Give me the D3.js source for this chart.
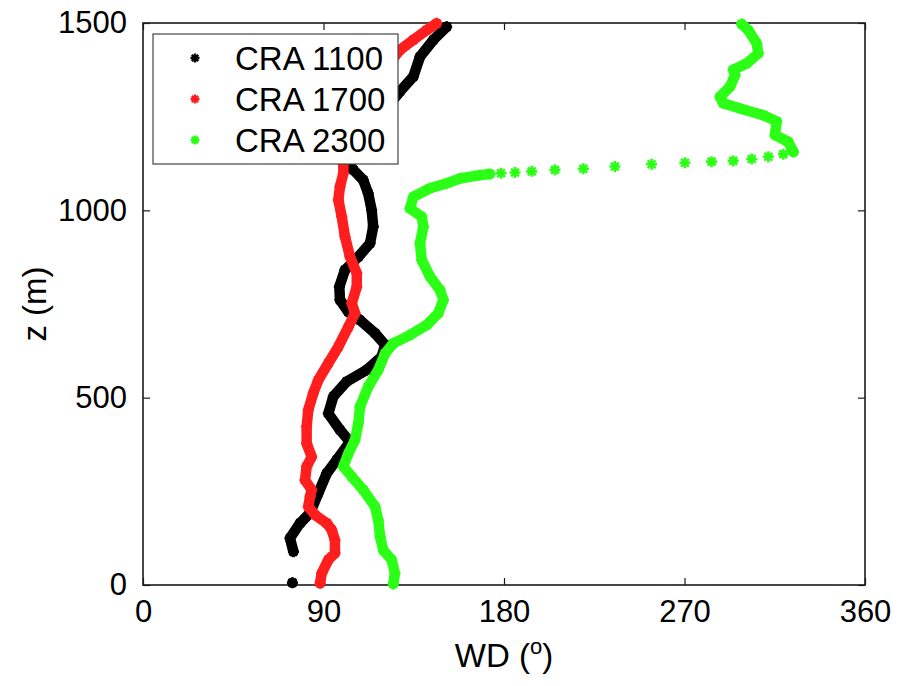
<!DOCTYPE html>
<html>
<head>
<meta charset="utf-8">
<script src="https://cdn.jsdelivr.net/npm/d3@7"></script>
<style>
  html, body { margin: 0; padding: 0; background: #fff; }
  svg { display: block; font-family: "Liberation Sans", Arial, Helvetica, sans-serif; }
</style>
</head>
<body>
<svg id="chart" width="904" height="686"></svg>
<script>
// ---- data: [height z (m), wind direction (deg)] ; null = gap in profile ----
const cra1100 = [
  [6, 74.5], null,
  [89, 75], [125, 73.3], [165, 78.3], [192, 83.3], [245, 87.4], [298, 91.6], [334, 96.6],
  [382, 103.2], [414, 98.2], [458, 92.4], [503, 94.9], [543, 101.6], [574, 111.5], [609, 119],
  [641, 120.7], [672, 115.7], [707, 108.2], [729, 102.4], [761, 98.2], [796, 97.9], [841, 100.7],
  [876, 107.4], [912, 113.2], [956, 114.8], [1001, 114], [1045, 112.3], [1081, 109.8],
  [1108, 104.9], [1125, 102.4], [1160, 104], [1200, 110], [1250, 118], [1290, 124],
  [1317, 128.1], [1357, 134.8], [1410, 138.1], [1455, 144.8], [1490, 151.4]
];
const cra1700 = [
  [5, 88.3], [31, 89.1], [67, 92.4], [85, 95.7], [120, 95.7], [147, 94.1], [165, 91.6],
  [187, 85.8], [209, 82.4], [236, 83.3], [254, 84.1], [280, 80.8], [316, 81.6], [342, 84.1],
  [378, 81.6], [423, 81.6], [467, 82.4], [512, 84.9], [547, 87.4], [592, 92.4], [636, 97.4],
  [689, 102.4], [725, 105.7], [752, 104.1], [796, 106.6], [832, 106.6], [876, 103.2],
  [930, 100.7], [983, 99.1], [1028, 97.4], [1063, 98.2], [1099, 99.9], [1125, 99.9],
  [1180, 102], [1250, 108], [1320, 115], [1380, 121], [1428, 128.1], [1455, 134.8],
  [1481, 141.5], [1499, 146.4]
];
const cra2300 = [
  [3, 124.8], [31, 125.6], [67, 124], [93, 119.8], [129, 118.2], [173, 117.3], [209, 115.7],
  [254, 109.8], [289, 104.1], [316, 99.9], [351, 102.4], [387, 105.7], [432, 107.4],
  [476, 108.2], [529, 112.3], [574, 117.3], [618, 120.7], [645, 124.8], [667, 133.1],
  [694, 141.5], [725, 147.2], [761, 149.8], [787, 148.1], [823, 143.1], [867, 139],
  [912, 138.1], [956, 139.8], [983, 139], [1005, 133.1], [1036, 134.8], [1059, 143.1],
  [1072, 151.4], [1085, 158.1], [1094, 168], [1097, 173], null,
  [1156, 324.3], [1183, 321.7], [1201, 315.1], [1237, 316], [1254, 309.3], [1272, 297.7],
  [1286, 289.3], [1303, 287.7], [1330, 292.7], [1361, 295.2], [1375, 294.3], [1392, 301],
  [1419, 306.8], [1446, 306], [1481, 301.8], [1497, 298.5]
];
// isolated samples in the sharp veering layer (drawn as separate markers)
const cra2300Jump = [
  [1099, 178.5], [1101, 185.5], [1104, 193.8], [1108, 205.4], [1111, 219.6], [1117, 235.3],
  [1123, 253.6], [1127, 270.2], [1130, 283.5], [1132, 294.3], [1137, 303.5], [1143, 311.8],
  [1150, 319.3]
];
const seriesNames = ["CRA 1100", "CRA 1700", "CRA 2300"];
const seriesColors = ["#000000", "#ff1e1e", "#2cff16"];
const xTicks = [0, 90, 180, 270, 360];
const yTicks = [0, 500, 1000, 1500];

// ---- layout ----
const svg = d3.select("#chart");
const plot = { left: 143, right: 865, top: 23, bottom: 585 };
const x = d3.scaleLinear().domain([0, 360]).range([plot.left, plot.right]);
const y = d3.scaleLinear().domain([0, 1500]).range([plot.bottom, plot.top]);
const tickFont = 31;
const labelFont = 33;

// frame
svg.append("rect")
  .attr("x", plot.left).attr("y", plot.top)
  .attr("width", plot.right - plot.left).attr("height", plot.bottom - plot.top)
  .attr("fill", "#fff").attr("stroke", "#1a1a1a").attr("stroke-width", 1.6);

// axes (ticks inside, MATLAB style)
function styleAxis(g) {
  g.select(".domain").remove();
  g.selectAll(".tick line").attr("stroke", "#1a1a1a").attr("stroke-width", 1.2);
  g.selectAll("text").attr("font-size", tickFont).attr("fill", "#000")
    .attr("font-family", "'Liberation Sans', Arial, Helvetica, sans-serif");
}
svg.append("g").attr("transform", `translate(0,${plot.bottom})`)
  .call(d3.axisBottom(x).tickValues(xTicks).tickFormat(d3.format("d")).tickSize(-7).tickPadding(15))
  .call(styleAxis);
svg.append("g").attr("transform", `translate(0,${plot.top})`)
  .call(d3.axisTop(x).tickValues(xTicks).tickFormat("").tickSize(-7))
  .call(styleAxis);
svg.append("g").attr("transform", `translate(${plot.left},0)`)
  .call(d3.axisLeft(y).tickValues(yTicks).tickFormat(d3.format("d")).tickSize(-7).tickPadding(16))
  .call(styleAxis);
svg.append("g").attr("transform", `translate(${plot.right},0)`)
  .call(d3.axisRight(y).tickValues(yTicks).tickFormat("").tickSize(-7))
  .call(styleAxis);

// asterisk marker path
function starPath(r) {
  const d = r * Math.SQRT1_2;
  return `M${-r},0L${r},0M0,${-r}L0,${r}M${-d},${-d}L${d},${d}M${-d},${d}L${d},${-d}`;
}

const line = d3.line()
  .defined(d => d !== null)
  .x(d => x(d[1]))
  .y(d => y(d[0]));

function drawProfile(data, color, extra) {
  const g = svg.append("g");
  g.append("path")
    .attr("d", line(data))
    .attr("fill", "none")
    .attr("stroke", color)
    .attr("stroke-width", 10.5)
    .attr("stroke-linejoin", "round")
    .attr("stroke-linecap", "round");
  const pts = data.filter(d => d !== null).concat(extra || []);
  g.selectAll("path.star").data(pts).enter().append("path")
    .attr("class", "star")
    .attr("d", starPath(5.5))
    .attr("transform", d => `translate(${x(d[1])},${y(d[0])})`)
    .attr("fill", "none")
    .attr("stroke", color)
    .attr("stroke-width", 2.6);
}
drawProfile(cra1100, seriesColors[0]);
drawProfile(cra1700, seriesColors[1]);
drawProfile(cra2300, seriesColors[2], cra2300Jump);

// legend
const legend = svg.append("g");
legend.append("rect")
  .attr("x", 153).attr("y", 34).attr("width", 245).attr("height", 130)
  .attr("fill", "#fff").attr("stroke", "#444").attr("stroke-width", 1.2);
seriesNames.forEach((name, i) => {
  const cy = 58 + i * 41;
  legend.append("path")
    .attr("d", starPath(4.5))
    .attr("transform", `translate(195,${cy})`)
    .attr("fill", "none").attr("stroke", seriesColors[i]).attr("stroke-width", 2.4);
  legend.append("text")
    .attr("x", 235).attr("y", cy + 12)
    .attr("font-size", labelFont).attr("fill", "#000")
    .text(name);
});

// axis titles
const xt = svg.append("text")
  .attr("x", (plot.left + plot.right) / 2).attr("y", 667)
  .attr("text-anchor", "middle").attr("font-size", labelFont).attr("fill", "#000");
xt.append("tspan").text("WD (");
xt.append("tspan").attr("font-size", 22).attr("dy", -13).text("o");
xt.append("tspan").attr("dy", 13).text(")");

svg.append("text")
  .attr("transform", `translate(46,${(plot.top + plot.bottom) / 2}) rotate(-90)`)
  .attr("text-anchor", "middle").attr("font-size", labelFont).attr("fill", "#000")
  .text("z (m)");
</script>
</body>
</html>
